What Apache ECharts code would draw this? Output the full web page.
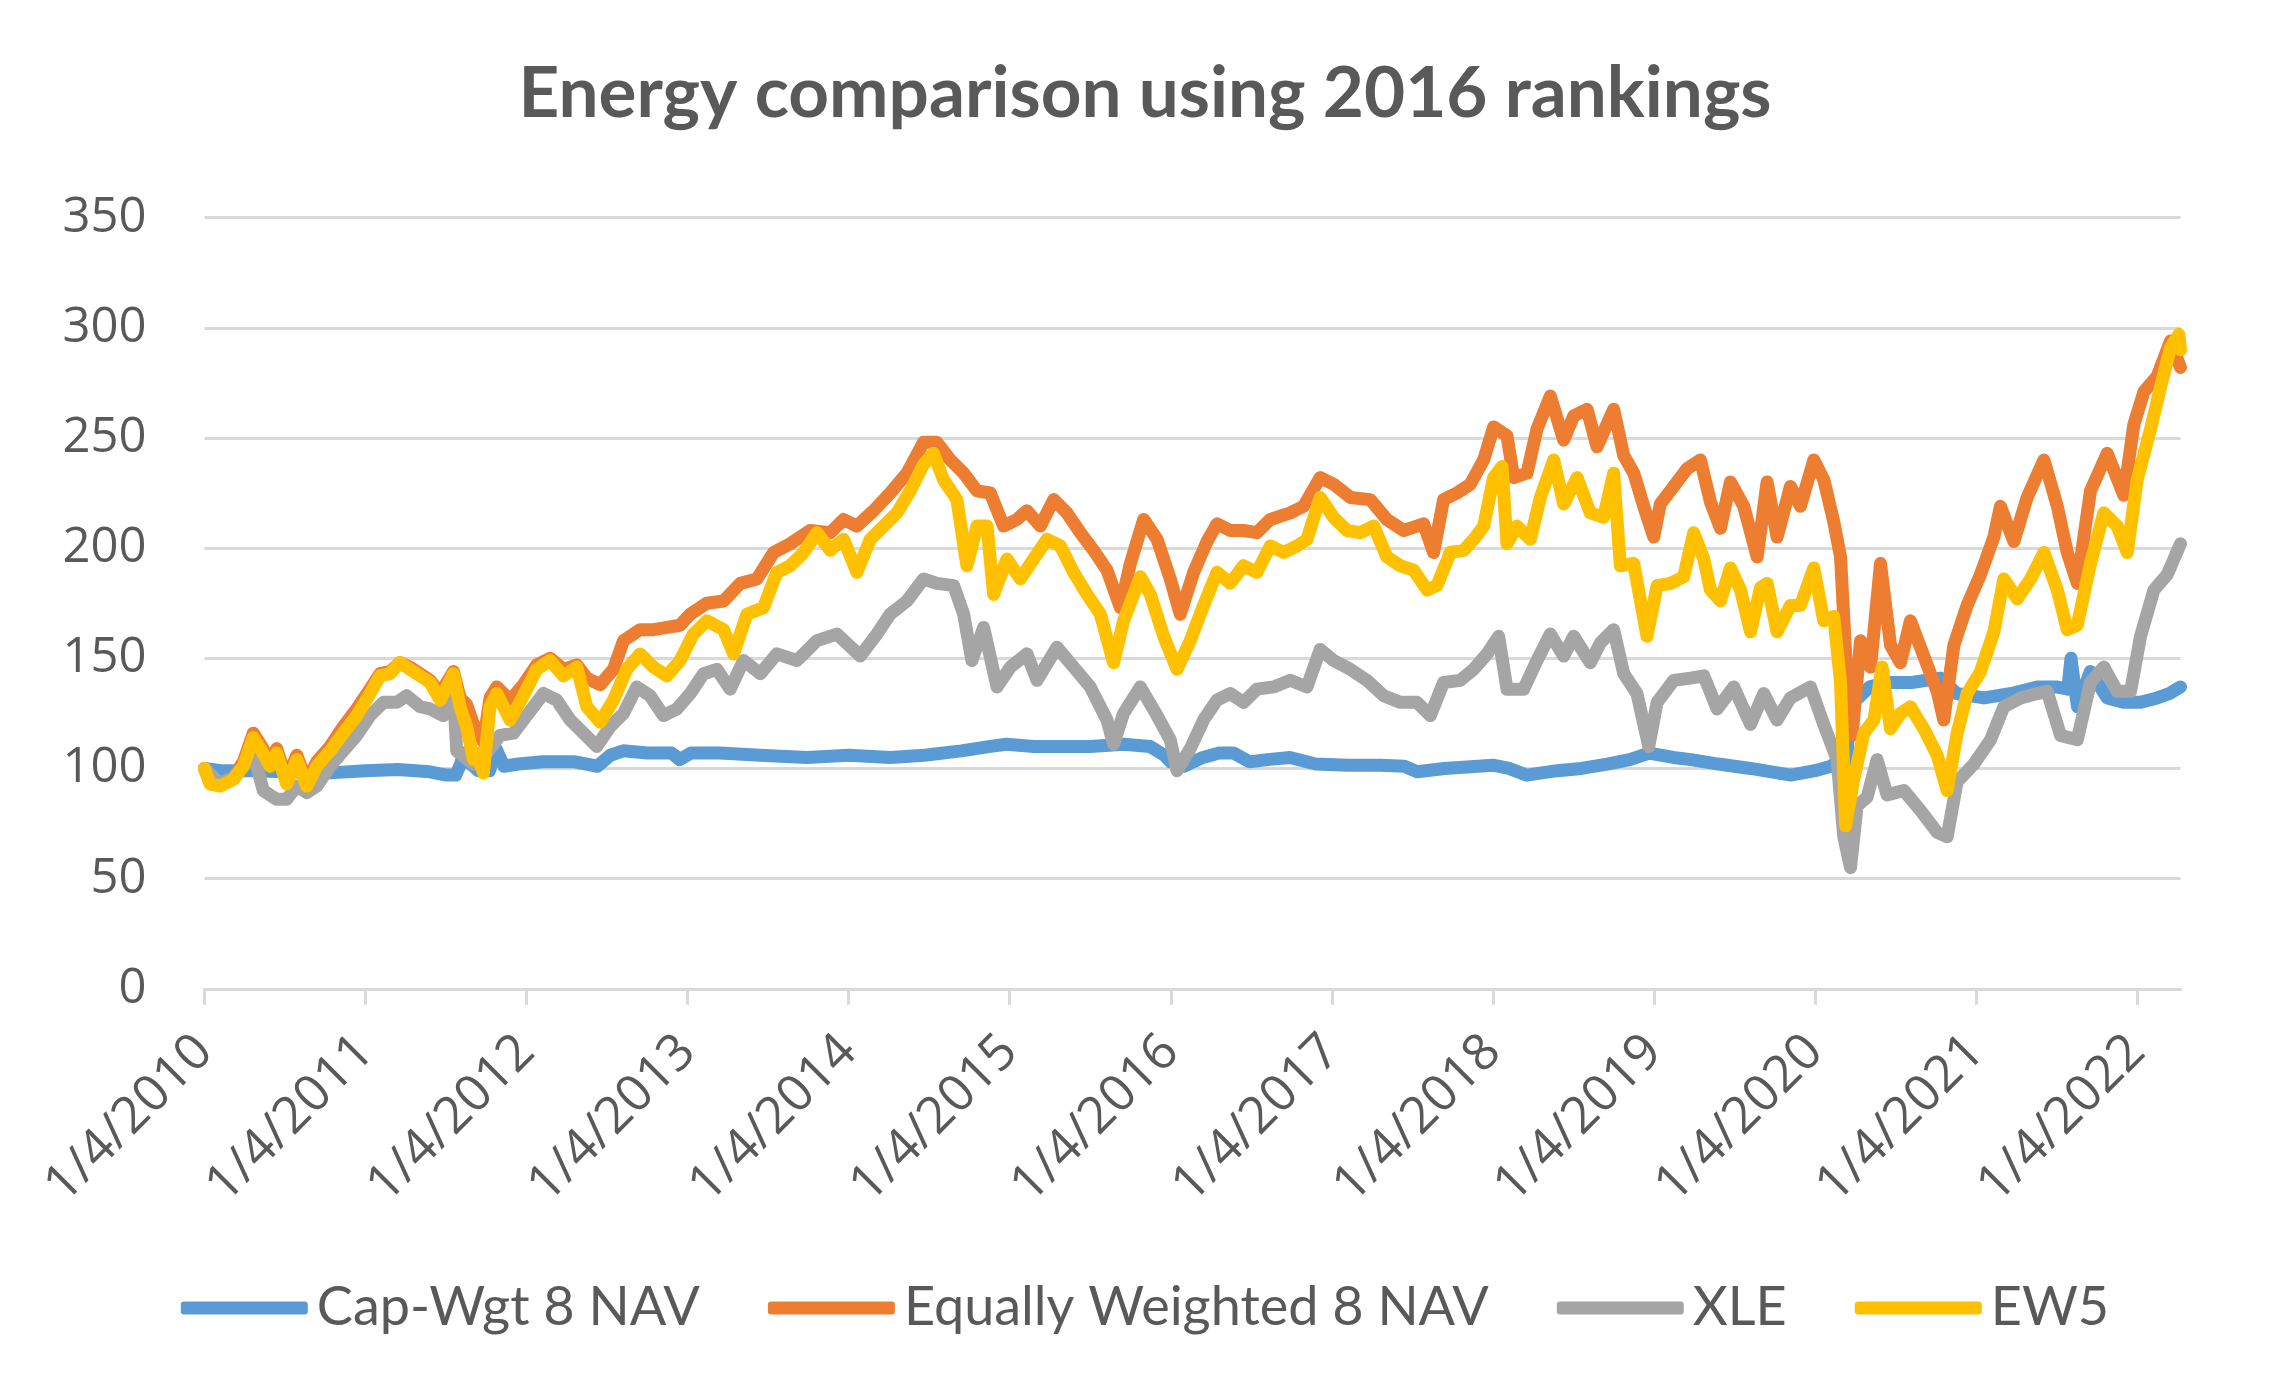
<!DOCTYPE html>
<html>
<head>
<meta charset="utf-8">
<script src="https://cdn.jsdelivr.net/npm/echarts@6/dist/echarts.min.js"></script>
<style>
html,body{margin:0;padding:0;background:#fff;}
#chart{width:2290px;height:1393px;}
</style>
</head>
<body>
<div id="chart"></div>
<script>
// x = years since 1/4/2010, y = index value
const seriesNames = ['Cap-Wgt 8 NAV', 'Equally Weighted 8 NAV', 'XLE', 'EW5'];
const tickYears = [0,1,2,3,4,5,6,7,8,9,10,11,12];
const yTicks = [0,50,100,150,200,250,300,350];

const capWgtNav = [[0,100],[0.1,99],[0.3,99],[0.5,98.5],[0.78,98],[1.0,99],[1.2,99.5],[1.4,98.5],[1.5,97],[1.56,97],[1.59,102],[1.61,107],[1.64,103],[1.70,99],[1.77,99],[1.81,109],[1.86,101],[1.95,102],[2.1,103],[2.3,103],[2.44,101],[2.52,106],[2.6,108],[2.75,107],[2.9,107],[2.95,104],[3.02,107],[3.2,107],[3.45,106],[3.74,105],[4.0,106],[4.26,105],[4.47,106],[4.7,108],[4.88,110],[4.98,111],[5.15,110],[5.3,110],[5.5,110],[5.71,111],[5.87,110],[5.96,106],[6.0,103],[6.08,101],[6.2,105],[6.3,107],[6.39,107],[6.49,103],[6.6,104],[6.74,105],[6.9,102],[7.1,101.5],[7.3,101.5],[7.45,101],[7.53,98.5],[7.7,100],[8.0,101.5],[8.1,100],[8.21,97],[8.4,99],[8.55,100],[8.71,102],[8.85,104],[8.97,107],[9.12,105],[9.23,104],[9.4,102],[9.6,100],[9.85,97],[10.0,99],[10.1,101],[10.15,104],[10.2,102],[10.22,145],[10.27,132],[10.34,137],[10.45,139],[10.6,139],[10.78,141],[10.88,134],[11.05,132],[11.22,134],[11.38,137],[11.5,137],[11.57,136],[11.59,150],[11.63,128],[11.71,144],[11.815,132],[11.92,130],[12.02,130],[12.125,132],[12.2,134],[12.27,137]];

const equalWgtNav = [[0,100],[0.034,94],[0.096,93],[0.179,96],[0.241,103],[0.303,116],[0.355,110],[0.407,103],[0.448,109],[0.51,95],[0.573,106],[0.635,94],[0.697,103],[0.78,110],[0.862,119],[0.945,127],[1.028,136],[1.09,143],[1.152,144],[1.214,148],[1.276,146],[1.339,143],[1.401,140],[1.463,134],[1.546,144],[1.587,132],[1.628,129],[1.67,120],[1.691,118],[1.732,112],[1.773,132],[1.815,137],[1.898,131],[1.98,138],[2.063,147],[2.146,150],[2.229,145],[2.312,147],[2.374,141],[2.457,138],[2.539,145],[2.602,158],[2.705,163],[2.788,163],[2.871,164],[2.953,165],[3.016,170],[3.119,175],[3.223,176],[3.327,184],[3.43,186],[3.534,198],[3.637,202],[3.761,208],[3.886,207],[3.968,213],[4.051,210],[4.155,217],[4.258,225],[4.362,234],[4.465,248],[4.548,248],[4.631,240],[4.714,234],[4.797,226],[4.879,225],[4.962,210],[5.045,213],[5.107,217],[5.19,210],[5.273,222],[5.355,216],[5.438,207],[5.521,199],[5.604,190],[5.687,173],[5.749,193],[5.832,213],[5.915,204],[5.997,186],[6.059,170],[6.142,189],[6.225,203],[6.287,211],[6.369,208],[6.452,208],[6.535,207],[6.618,213],[6.742,216],[6.825,219],[6.928,232],[7.011,229],[7.115,223],[7.239,222],[7.342,213],[7.446,208],[7.57,211],[7.632,198],[7.694,222],[7.777,225],[7.86,229],[7.943,240],[8.005,255],[8.088,251],[8.129,232],[8.212,234],[8.274,254],[8.357,269],[8.44,249],[8.502,260],[8.585,263],[8.647,246],[8.75,263],[8.813,242],[8.875,234],[8.937,219],[8.999,205],[9.04,220],[9.123,228],[9.206,236],[9.289,240],[9.351,221],[9.413,209],[9.475,230],[9.558,219],[9.641,196],[9.703,230],[9.765,205],[9.848,228],[9.91,219],[9.993,240],[10.055,231],[10.117,212],[10.159,196],[10.2,139],[10.231,115],[10.283,158],[10.345,146],[10.407,193],[10.469,156],[10.531,148],[10.593,167],[10.676,151],[10.759,135],[10.8,122],[10.863,156],[10.945,174],[11.028,188],[11.111,205],[11.152,219],[11.235,203],[11.318,223],[11.422,240],[11.505,219],[11.567,198],[11.629,184],[11.711,226],[11.815,243],[11.918,224],[11.98,256],[12.043,271],[12.125,278],[12.208,294],[12.27,282]];

const xleValues = [[0,100],[0.096,93],[0.179,96],[0.241,101],[0.303,107],[0.365,90],[0.448,86],[0.51,86],[0.573,92],[0.635,89],[0.697,92],[0.78,101],[0.862,108],[0.945,115],[1.028,124],[1.111,130],[1.194,130],[1.256,133],[1.339,128],[1.401,127],[1.483,124],[1.546,135],[1.566,108],[1.67,102],[1.732,105],[1.835,115],[1.918,116],[2.001,124],[2.105,134],[2.187,131],[2.27,122],[2.353,116],[2.436,110],[2.519,119],[2.602,125],[2.684,137],[2.767,133],[2.85,124],[2.933,127],[3.016,134],[3.099,143],[3.182,145],[3.264,136],[3.347,149],[3.451,143],[3.554,152],[3.679,149],[3.803,158],[3.927,161],[4.072,151],[4.175,161],[4.258,170],[4.362,176],[4.465,186],[4.548,184],[4.652,183],[4.714,170],[4.765,149],[4.838,164],[4.921,137],[5.004,146],[5.107,152],[5.169,140],[5.293,155],[5.397,146],[5.5,137],[5.604,122],[5.645,111],[5.707,125],[5.811,137],[5.915,124],[5.997,113],[6.039,99],[6.121,109],[6.204,122],[6.287,131],[6.369,134],[6.452,130],[6.535,136],[6.639,137],[6.742,140],[6.846,137],[6.928,154],[7.011,149],[7.115,145],[7.218,140],[7.322,133],[7.425,130],[7.529,130],[7.612,124],[7.694,139],[7.798,140],[7.881,145],[7.964,152],[8.036,160],[8.088,136],[8.191,136],[8.274,149],[8.357,161],[8.44,151],[8.502,160],[8.605,148],[8.668,157],[8.75,163],[8.813,143],[8.895,134],[8.968,110],[9.02,130],[9.123,140],[9.227,141],[9.31,142],[9.393,127],[9.496,137],[9.6,120],[9.682,134],[9.765,122],[9.848,132],[9.972,137],[10.055,120],[10.138,104],[10.179,69],[10.221,55],[10.262,83],[10.324,87],[10.386,104],[10.448,88],[10.552,90],[10.655,81],[10.759,71],[10.821,69],[10.883,94],[10.987,102],[11.09,113],[11.173,128],[11.277,132],[11.38,134],[11.442,135],[11.525,115],[11.629,113],[11.711,139],[11.794,146],[11.877,135],[11.96,135],[12.022,160],[12.105,181],[12.188,188],[12.27,202]];

const ew5Values = [[0,100],[0.034,93],[0.096,92],[0.179,95],[0.241,101],[0.303,114],[0.355,108],[0.407,101],[0.448,107],[0.51,93],[0.573,104],[0.635,92],[0.697,101],[0.78,108],[0.862,116],[0.945,124],[1.028,134],[1.09,142],[1.152,143],[1.214,148],[1.276,145],[1.339,142],[1.401,139],[1.463,131],[1.546,143],[1.587,128],[1.628,119],[1.67,104],[1.691,107],[1.732,98],[1.773,128],[1.815,134],[1.898,122],[1.98,133],[2.063,145],[2.146,149],[2.229,142],[2.312,146],[2.374,128],[2.457,121],[2.539,131],[2.622,145],[2.705,152],[2.788,146],[2.871,142],[2.953,149],[3.036,161],[3.12,167],[3.223,163],[3.285,152],[3.368,170],[3.471,173],[3.554,189],[3.637,192],[3.72,198],[3.803,207],[3.886,199],[3.968,204],[4.051,189],[4.134,204],[4.217,210],[4.3,216],[4.382,226],[4.465,238],[4.527,243],[4.589,231],[4.672,222],[4.734,192],[4.797,210],[4.859,210],[4.9,179],[4.983,195],[5.066,186],[5.148,195],[5.231,204],[5.314,201],[5.397,189],[5.48,179],[5.563,170],[5.645,148],[5.707,167],[5.811,187],[5.873,179],[5.956,160],[6.039,145],[6.121,158],[6.204,174],[6.287,189],[6.369,184],[6.452,192],[6.535,189],[6.618,201],[6.701,198],[6.784,201],[6.846,204],[6.928,223],[7.011,214],[7.094,208],[7.177,207],[7.26,210],[7.342,196],[7.425,192],[7.508,190],[7.591,181],[7.653,183],[7.736,198],[7.819,199],[7.881,204],[7.943,210],[8.005,232],[8.057,237],[8.088,202],[8.15,210],[8.233,204],[8.295,223],[8.378,240],[8.44,220],[8.523,232],[8.605,216],[8.688,214],[8.75,234],[8.792,192],[8.875,193],[8.957,160],[9.02,183],[9.103,184],[9.185,187],[9.247,207],[9.31,195],[9.351,181],[9.413,176],[9.475,191],[9.538,181],[9.6,162],[9.662,182],[9.703,184],[9.765,162],[9.848,174],[9.91,174],[9.993,191],[10.055,167],[10.117,169],[10.159,139],[10.19,74],[10.241,95],[10.304,116],[10.366,122],[10.417,146],[10.469,118],[10.531,125],[10.593,128],[10.676,118],[10.759,106],[10.821,90],[10.883,116],[10.945,134],[11.028,144],[11.111,162],[11.173,186],[11.256,177],[11.339,186],[11.422,198],[11.505,181],[11.567,163],[11.629,165],[11.711,193],[11.794,216],[11.877,210],[11.939,198],[12.001,231],[12.084,254],[12.146,273],[12.208,291],[12.26,297],[12.27,290]];

const colors = ['#5B9BD5', '#ED7D31', '#A5A5A5', '#FFC000'];
const dataSets = [capWgtNav, equalWgtNav, xleValues, ew5Values];

const chart = echarts.init(document.getElementById('chart'), null, {renderer: 'canvas'});
const textColor = '#595959';
chart.setOption({
  backgroundColor: '#ffffff',
  animation: false,
  color: colors,
  title: {
    text: 'Energy comparison using 2016 rankings',
    left: 'center',
    top: 54,
    textStyle: {fontFamily: 'Lato', fontWeight: 'bold', fontSize: 71, color: textColor}
  },
  legend: {
    data: seriesNames,
    left: 'center',
    top: 1276,
    icon: 'roundRect',
    itemWidth: 127,
    itemHeight: 13,
    itemGap: 68,
    textStyle: {fontFamily: 'Lato', fontSize: 54, color: textColor, padding: [0, 0, 0, 4]}
  },
  grid: {left: 204.5, right: 109.5, top: 217.6, bottom: 404.2, containLabel: false},
  xAxis: {
    type: 'value',
    min: 0,
    max: 12.27,
    interval: 1,
    axisLine: {show: true, lineStyle: {color: '#D9D9D9', width: 3}},
    axisTick: {show: true, length: 16, lineStyle: {color: '#D9D9D9', width: 3}, customValues: tickYears},
    splitLine: {show: false},
    axisLabel: {
      customValues: tickYears,
      rotate: 45,
      margin: 55,
      padding: [22, 0, 0, 0],
      fontFamily: 'Open Sans',
      fontSize: 51,
      color: textColor,
      formatter: v => '1/4/' + (2010 + Math.round(v))
    }
  },
  yAxis: {
    type: 'value',
    min: 0,
    max: 350,
    interval: 50,
    axisLine: {show: false},
    axisTick: {show: false},
    splitLine: {show: true, lineStyle: {color: '#D9D9D9', width: 3}},
    axisLabel: {margin: 58, fontFamily: 'Open Sans', fontSize: 49, color: textColor}
  },
  series: seriesNames.map((name, i) => ({
    name: name,
    type: 'line',
    data: dataSets[i],
    showSymbol: false,
    symbol: 'none',
    lineStyle: {width: 13, color: colors[i], cap: 'round', join: 'round'},
    itemStyle: {color: colors[i]}
  }))
});
</script>
</body>
</html>
